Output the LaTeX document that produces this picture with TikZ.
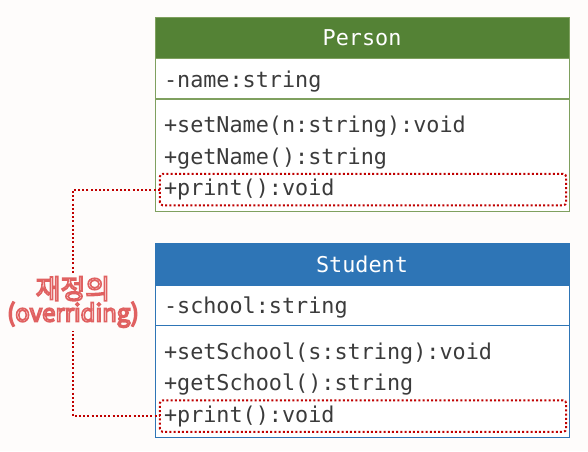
\documentclass[tikz,border=0pt]{standalone}
\usepackage{fontspec}
\setmonofont{DejaVu Sans Mono}
\newfontfamily\krfont{Noto Sans CJK KR}
\usetikzlibrary{positioning}

\definecolor{persongreen}{HTML}{548235}
\definecolor{personline}{HTML}{7FA05F}
\definecolor{studentblue}{HTML}{2E75B6}
\definecolor{textgray}{HTML}{3B3B3B}
\definecolor{dotred}{HTML}{C00000}
\definecolor{labelred}{HTML}{E06060}

% outlined text: white fill, red stroke
\newcommand{\outlinetext}[1]{%
    \textcolor{white!94!red}{\special{pdf:code 2 Tr 1.6 w 0.88 0.38 0.38 RG}#1%
    \special{pdf:code 0 Tr}}}

\tikzset{
    classhead/.style={minimum width=414pt, minimum height=41pt, inner sep=0pt,
        text=white, font=\ttfamily\fontsize{21.8}{24}\selectfont},
    attrrow/.style={minimum width=414pt, minimum height=40pt, inner xsep=9pt,
        text width=396pt, align=left, text=textgray, text height=22pt, text depth=4.5pt,
        font=\ttfamily\fontsize{21.8}{24}\selectfont},
    methodbox/.style={minimum width=414pt, minimum height=112pt, inner sep=0pt},
    methodrow/.style={minimum width=406pt, minimum height=31pt, inner xsep=4pt,
        inner ysep=0pt, text width=398pt, align=left, text=textgray,
        font=\ttfamily\fontsize{21.8}{24}\selectfont},
    overbox/.style={draw=dotred, line width=2pt, dash pattern=on 2pt off 2.2pt,
        rounded corners=3pt},
    overline/.style={draw=dotred, line width=2pt, dash pattern=on 2pt off 2.2pt}
}

\begin{document}
\begin{tikzpicture}[x=1pt, y=1pt]

    % Canvas
    \fill[white!98!brown] (0,0) rectangle (588,-451);
    \useasboundingbox (0,0) rectangle (588,-451);

    % Person class
    \node[classhead, fill=persongreen, draw=personline] (person) at (362,-37.5) {Person};
    \node[attrrow, draw=personline, below=0pt of person, fill=white] (pname) {-name:string};
    \node[methodbox, draw=personline, below=0pt of pname, fill=white] (pmethods) {};
    \node[methodrow, anchor=north west] (psetname)
        at ([shift={(5pt,-12.5pt)}]pmethods.north west) {+setName(n:string):void};
    \node[methodrow, below=0pt of psetname] (pgetname) {+getName():string};
    \node[methodrow, below=0pt of pgetname] (pprint) {+print():void};
    \draw[overbox] (pprint.south west) rectangle (pprint.north east);

    % Student class
    \node[classhead, fill=studentblue, draw=studentblue] (student) at (362,-264) {Student};
    \node[attrrow, draw=studentblue, below=0pt of student, fill=white] (sschool) {-school:string};
    \node[methodbox, draw=studentblue, below=0pt of sschool, fill=white] (smethods) {};
    \node[methodrow, anchor=north west] (ssetschool)
        at ([shift={(5pt,-12.5pt)}]smethods.north west) {+setSchool(s:string):void};
    \node[methodrow, below=0pt of ssetschool] (sgetschool) {+getSchool():string};
    \node[methodrow, below=0pt of sgetschool] (sprint) {+print():void};
    \draw[overbox] (sprint.south west) rectangle (sprint.north east);

    % Overriding link
    \coordinate (ptop) at (73,0 |- pprint.west);
    \coordinate (pbot) at (73,0 |- sprint.west);
    \draw[overline] (pprint.west) -- (ptop) -- (pbot) -- (sprint.west);
    \node[fill=white!98!brown, align=center, inner sep=3pt,
        font=\krfont] (relabel) at (73,-302)
        {{\fontsize{27}{31}\selectfont\outlinetext{재정의}}\\
         {\fontsize{24}{31}\selectfont\outlinetext{(overriding)}}};

\end{tikzpicture}
\end{document}
